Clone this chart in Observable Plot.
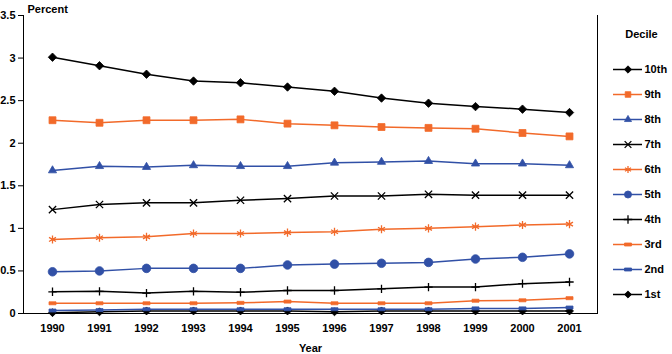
<!DOCTYPE html>
<html>
<head>
<meta charset="utf-8">
<script src="https://cdn.jsdelivr.net/npm/d3@7"></script>
<script src="https://cdn.jsdelivr.net/npm/@observablehq/plot@0.6"></script>
<style>
  html, body { margin: 0; padding: 0; background: #fff; }
  #wrap { position: relative; width: 672px; height: 354px; font-family: "Liberation Sans", Arial, sans-serif; }
  #wrap svg { position: absolute; top: 0; }
</style>
</head>
<body>
<div id="wrap"></div>
<script>
// ---- data ----
const years = [1990, 1991, 1992, 1993, 1994, 1995, 1996, 1997, 1998, 1999, 2000, 2001];
const decileNames = ["10th", "9th", "8th", "7th", "6th", "5th", "4th", "3rd", "2nd", "1st"];
const yTicks = [0, 0.5, 1, 1.5, 2, 2.5, 3, 3.5];
const d10 = [3.01, 2.91, 2.81, 2.73, 2.71, 2.66, 2.61, 2.53, 2.47, 2.43, 2.40, 2.36];
const d9  = [2.27, 2.24, 2.27, 2.27, 2.28, 2.23, 2.21, 2.19, 2.18, 2.17, 2.12, 2.08];
const d8  = [1.68, 1.73, 1.72, 1.74, 1.73, 1.73, 1.77, 1.78, 1.79, 1.76, 1.76, 1.74];
const d7  = [1.22, 1.28, 1.30, 1.30, 1.33, 1.35, 1.38, 1.38, 1.40, 1.39, 1.39, 1.39];
const d6  = [0.87, 0.89, 0.90, 0.94, 0.94, 0.95, 0.96, 0.99, 1.00, 1.02, 1.04, 1.05];
const d5  = [0.49, 0.50, 0.53, 0.53, 0.53, 0.57, 0.58, 0.59, 0.60, 0.64, 0.66, 0.70];
const d4  = [0.255, 0.26, 0.24, 0.26, 0.25, 0.27, 0.27, 0.29, 0.31, 0.31, 0.35, 0.37];
const d3v = [0.12, 0.12, 0.12, 0.12, 0.125, 0.14, 0.12, 0.12, 0.12, 0.15, 0.155, 0.18];
const d2  = [0.035, 0.04, 0.05, 0.05, 0.05, 0.05, 0.05, 0.05, 0.05, 0.06, 0.06, 0.07];
const d1  = [0.01, 0.02, 0.03, 0.03, 0.03, 0.03, 0.02, 0.03, 0.03, 0.03, 0.03, 0.03];
const seriesValues = [d10, d9, d8, d7, d6, d5, d4, d3v, d2, d1];

// ---- styles ----
const BLACK = "#000000", ORANGE = "#F26A2A", BLUE = "#3150A6";
const dash = { draw(ctx, size) { ctx.rect(-3.5, -1.5, 7, 3); } };
const styles = {
  "10th": { color: BLACK,  symbol: "diamond2", r: 3.8, fill: BLACK },
  "9th":  { color: ORANGE, symbol: "square2",  r: 4.4, fill: ORANGE },
  "8th":  { color: BLUE,   symbol: "triangle2", r: 3.9, fill: BLUE },
  "7th":  { color: BLACK,  symbol: "times",    r: 3.4, fill: "none" },
  "6th":  { color: ORANGE, symbol: "asterisk", r: 3.8, fill: "none" },
  "5th":  { color: BLUE,   symbol: "circle",   r: 4.3, fill: BLUE },
  "4th":  { color: BLACK,  symbol: "plus",     r: 2.8, fill: "none" },
  "3rd":  { color: ORANGE, symbol: dash,       r: 3,   fill: ORANGE },
  "2nd":  { color: BLUE,   symbol: dash,       r: 3,   fill: BLUE },
  "1st":  { color: BLACK,  symbol: "diamond2", r: 3.6, fill: BLACK }
};

const rows = [];
decileNames.forEach((name, i) => {
  years.forEach((yr, j) => rows.push({ decile: name, year: yr, value: seriesValues[i][j] }));
});

const font = { fontFamily: "'Liberation Sans', Arial, sans-serif", fontSize: "11px", fontWeight: "bold", color: "#000" };

const marks = [];
[...decileNames].reverse().forEach(name => {
  const s = styles[name];
  const data = rows.filter(d => d.decile === name);
  marks.push(Plot.line(data, { x: "year", y: "value", stroke: s.color, strokeWidth: 1.5 }));
  marks.push(Plot.dot(data, { x: "year", y: "value", symbol: () => s.symbol, r: s.r,
    fill: s.fill, stroke: s.color, strokeWidth: s.fill === "none" ? 1.3 : 0.8 }));
});

const main = Plot.plot({
  width: 672, height: 354,
  marginLeft: 23, marginRight: 75, marginTop: 15, marginBottom: 41,
  style: font,
  x: { type: "point", domain: years, padding: 0.5, label: null, tickSize: 0, tickPadding: 11, line: true, tickFormat: d => String(d) },
  y: { domain: [0, 3.5], ticks: yTicks, tickFormat: d => String(d), label: null, tickSize: 5, tickPadding: 3, line: true },
  symbol: { type: "identity" },
  marks: [
    ...marks,
    Plot.frame({ anchor: "right", stroke: "#000" }),
    Plot.text(["Percent"], { frameAnchor: "top-left", dx: 4, dy: -10, textAnchor: "start", fontWeight: "bold" }),
    Plot.text(["Year"], { frameAnchor: "bottom", dy: 38, fontWeight: "bold" })
  ]
});

// ---- legend (separate small plot overlaid on the right) ----
const legendRows = decileNames.map(n => ({ decile: n }));
const legend = Plot.plot({
  width: 75, height: 354, margin: 0,
  style: font,
  x: { domain: [0, 1], range: [16, 45], axis: null },
  y: { type: "point", domain: decileNames, range: [55, 308], axis: null },
  symbol: { type: "identity" },
  marks: [
    Plot.ruleY(legendRows, { y: "decile", x1: 0, x2: 1, stroke: d => styles[d.decile].color, strokeWidth: 1.5 }),
    Plot.dot(legendRows, { y: "decile", x: 0.5, symbol: d => styles[d.decile].symbol, r: d => styles[d.decile].r,
      fill: d => styles[d.decile].fill, stroke: d => styles[d.decile].color,
      strokeWidth: d => styles[d.decile].fill === "none" ? 1.3 : 0.8 }),
    Plot.text(legendRows, { y: "decile", x: 1, text: "decile", dx: 2, textAnchor: "start", fontWeight: "bold" }),
    Plot.text(["Decile"], { x: 1, frameAnchor: "top", dy: 30, dx: -1, textAnchor: "middle", fontWeight: "bold" })
  ]
});
legend.style.left = "597px";

const wrap = document.getElementById("wrap");
wrap.appendChild(main);
wrap.appendChild(legend);
</script>
</body>
</html>
